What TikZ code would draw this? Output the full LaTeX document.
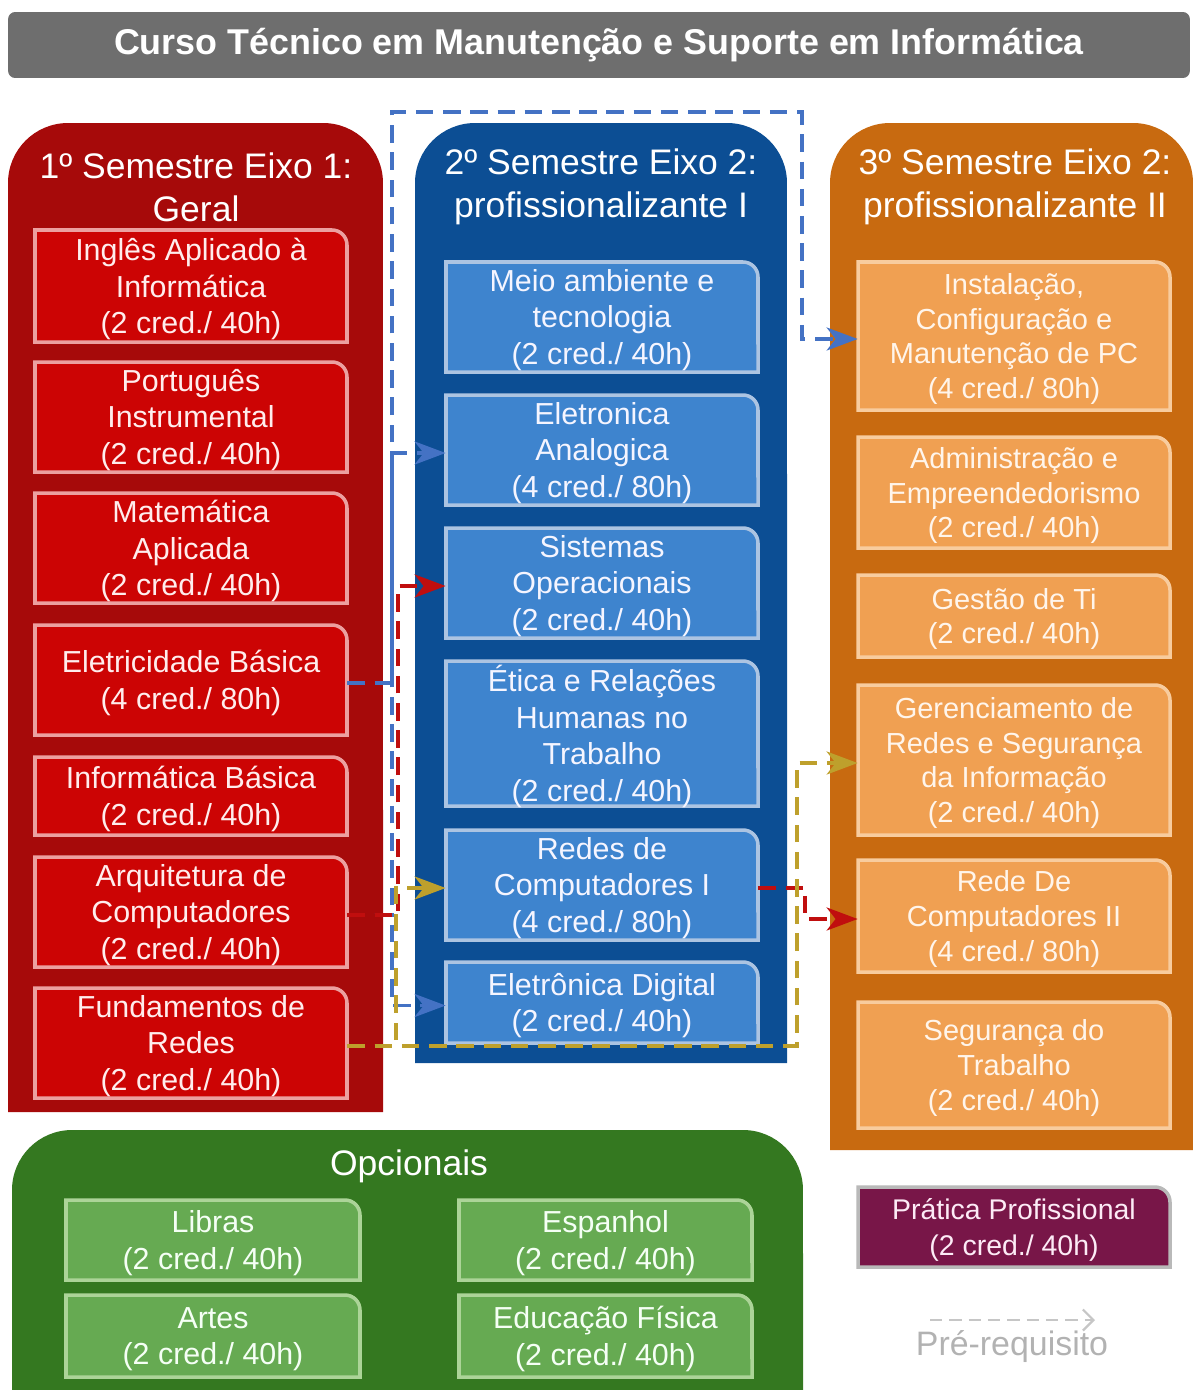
\documentclass[tikz,border=0pt]{standalone}
\usepackage{fontspec}
\setmainfont{Liberation Sans}
\usepackage{xcolor}
\usetikzlibrary{arrows.meta}

\definecolor{titlegray}{RGB}{110,110,110}
\definecolor{colred}{RGB}{166,10,10}
\definecolor{boxred}{RGB}{204,4,4}
\definecolor{rimred}{RGB}{236,160,160}
\definecolor{colblue}{RGB}{12,78,148}
\definecolor{boxblue}{RGB}{62,132,206}
\definecolor{rimblue}{RGB}{172,196,226}
\definecolor{colorange}{RGB}{200,106,16}
\definecolor{boxorange}{RGB}{240,160,82}
\definecolor{rimorange}{RGB}{248,204,158}
\definecolor{colgreen}{RGB}{52,120,32}
\definecolor{boxgreen}{RGB}{102,170,82}
\definecolor{rimgreen}{RGB}{172,212,152}
\definecolor{boxplum}{RGB}{120,22,72}
\definecolor{preblue}{RGB}{68,114,196}
\definecolor{prered}{RGB}{192,14,14}
\definecolor{preolive}{RGB}{190,160,44}

% subject box: name, shape style, text style, x1, y1, x2, y2, text
\newcommand{\subj}[8]{%
  \draw[#2] (#4,#7) -- (#4,#5) -- ({#6-15},#5) arc[start angle=90,end angle=0,radius=0.3cm] -- (#6,#7) -- cycle;
  \node[#3, minimum width={(#6-#4)*0.02cm}, minimum height={(#7-#5)*0.02cm}] (#1) at ({(#4+#6)/2},{(#5+#7)/2+3}) {#8};
}
% semester panel with round top corners: style, x1, y1, x2, y2
\newcommand{\panel}[5]{%
  \fill[#1] (#2,#5) -- (#2,{#3+60}) arc[start angle=180,end angle=90,radius=1.2cm] -- ({#4-60},#3) arc[start angle=90,end angle=0,radius=1.2cm] -- (#4,#5) -- cycle;
}

\tikzset{
  subj/.style={inner sep=0pt, align=center, font=\fontsize{17.3}{20.7}\selectfont},
  head/.style={inner sep=0pt, align=center, text=white, font=\fontsize{20.2}{24.4}\selectfont},
  shapeA/.style={fill=boxred, draw=rimred, line width=2pt},
  shapeB/.style={fill=boxblue, draw=rimblue, line width=2pt},
  shapeC/.style={fill=boxorange, draw=rimorange, line width=2pt},
  shapeD/.style={fill=boxgreen, draw=rimgreen, line width=2pt},
  shapeE/.style={fill=boxplum, draw=gray!55, line width=2pt},
  txtA/.style={subj, text=red!7!white},
  txtB/.style={subj, text=blue!4!white},
  txtC/.style={subj, text=orange!8!white, font=\fontsize{16.5}{19.9}\selectfont},
  txtD/.style={subj, text=green!4!white},
  txtE/.style={subj, text=magenta!8!white, font=\fontsize{16.2}{21}\selectfont},
  pre/.style={line width=2.2pt, dash pattern=on 10pt off 5.5pt, -{Stealth[length=0.62cm, width=0.46cm, inset=0.18cm]}},
}

\begin{document}
\begin{tikzpicture}[x=0.02cm, y=-0.02cm]
\useasboundingbox (0,0) rectangle (1193,1390);

% title
\node[fill=titlegray, rounded corners=4pt, minimum width=23.64cm, minimum height=1.32cm, inner sep=0pt,
      text=white, font=\bfseries\fontsize{20.4}{24}\selectfont] (title) at (599,45)
      {Curso Técnico em Manutenção e Suporte em Informática};

% panels
\panel{colred}{8}{123}{383}{1112}
\panel{colblue}{415}{123}{787}{1063}
\panel{colorange}{830}{123}{1193}{1150}
\panel{colgreen}{12}{1130}{803}{1390}

\node[head] (h1) at (196,187) {1º Semestre Eixo 1:\\Geral};
\node[head] (h2) at (601,187) {2º Semestre Eixo 2:\\profissionalizante I};
\node[head] (h3) at (1015,187) {3º Semestre Eixo 2:\\profissionalizante II};
\node[head] (h4) at (409,1166) {Opcionais};

% 1o semestre
\subj{ingles}{shapeA}{txtA}{35}{230}{347}{342}{Inglês Aplicado à\\Informática\\(2 cred./ 40h)}
\subj{port}{shapeA}{txtA}{35}{362}{347}{472}{Português\\Instrumental\\(2 cred./ 40h)}
\subj{mat}{shapeA}{txtA}{35}{493}{347}{603}{Matemática\\Aplicada\\(2 cred./ 40h)}
\subj{eletr}{shapeA}{txtA}{35}{625}{347}{735}{Eletricidade Básica\\(4 cred./ 80h)}
\subj{infob}{shapeA}{txtA}{35}{757}{347}{835}{Informática Básica\\(2 cred./ 40h)}
\subj{arq}{shapeA}{txtA}{35}{857}{347}{967}{Arquitetura de\\Computadores\\(2 cred./ 40h)}
\subj{fund}{shapeA}{txtA}{35}{988}{347}{1098}{Fundamentos de\\Redes\\(2 cred./ 40h)}

% 2o semestre
\subj{meio}{shapeB}{txtB}{446}{262}{758}{372}{Meio ambiente e\\tecnologia\\(2 cred./ 40h)}
\subj{analog}{shapeB}{txtB}{446}{395}{758}{505}{Eletronica\\Analogica\\(4 cred./ 80h)}
\subj{so}{shapeB}{txtB}{446}{528}{758}{638}{Sistemas\\Operacionais\\(2 cred./ 40h)}
\subj{etica}{shapeB}{txtB}{446}{661}{758}{806}{Ética e Relações\\Humanas no\\Trabalho\\(2 cred./ 40h)}
\subj{redes1}{shapeB}{txtB}{446}{830}{758}{940}{Redes de\\Computadores I\\(4 cred./ 80h)}
\subj{digital}{shapeB}{txtB}{446}{962}{758}{1043}{Eletrônica Digital\\(2 cred./ 40h)}

% 3o semestre
\subj{instal}{shapeC}{txtC}{858}{262}{1170}{410}{Instalação,\\Configuração e\\Manutenção de PC\\(4 cred./ 80h)}
\subj{adm}{shapeC}{txtC}{858}{437}{1170}{548}{Administração e\\Empreendedorismo\\(2 cred./ 40h)}
\subj{gestao}{shapeC}{txtC}{858}{575}{1170}{657}{Gestão de Ti\\(2 cred./ 40h)}
\subj{gerenc}{shapeC}{txtC}{858}{685}{1170}{835}{Gerenciamento de\\Redes e Segurança\\da Informação\\(2 cred./ 40h)}
\subj{rede2}{shapeC}{txtC}{858}{860}{1170}{972}{Rede De\\Computadores II\\(4 cred./ 80h)}
\subj{seg}{shapeC}{txtC}{858}{1002}{1170}{1128}{Segurança do\\Trabalho\\(2 cred./ 40h)}

% opcionais
\subj{libras}{shapeD}{txtD}{66}{1200}{360}{1280}{Libras\\(2 cred./ 40h)}
\subj{esp}{shapeD}{txtD}{459}{1200}{752}{1280}{Espanhol\\(2 cred./ 40h)}
\subj{artes}{shapeD}{txtD}{66}{1295}{360}{1377}{Artes\\(2 cred./ 40h)}
\subj{edfis}{shapeD}{txtD}{459}{1295}{752}{1377}{Educação Física\\(2 cred./ 40h)}

\subj{pratica}{shapeE}{txtE}{858}{1187}{1170}{1267}{Prática Profissional\\(2 cred./ 40h)}

% pre-requisitos
\coordinate (busL) at (392,112);
\coordinate (busR) at (802,112);
\coordinate (redL) at (398,0);
\coordinate (oliveL) at (396,0);
\coordinate (oliveR) at (797,0);
\coordinate (redR) at (805,0);

\draw[pre, preblue] (eletr.east) -- (eletr.east -| busL) -- (analog.west -| busL) -- (analog.west);
\draw[pre, preblue] (arq.east) -- (arq.east -| busL) -- (digital.west -| busL) -- (digital.west);
\draw[pre, preblue] (arq.east) -- (arq.east -| busL) -- (busL) -- (busR) -- (instal.west -| busR) -- (instal.west);
\draw[pre, prered] (arq.east) -- (arq.east -| redL) -- (so.west -| redL) -- (so.west);
\draw[pre, prered] (redes1.east) -- (redes1.east -| redR) -- (rede2.west -| redR) -- (rede2.west);
\draw[pre, preolive] (fund.east) -- (fund.east -| oliveL) -- (redes1.west -| oliveL) -- (redes1.west);
\draw[pre, preolive] (fund.east) -- (fund.east -| oliveR) -- (gerenc.west -| oliveR) -- (gerenc.west);

% legenda
\coordinate (legA) at (930,1320);
\coordinate (legB) at (1095,1320);
\draw[gray!45, line width=1.3pt, dash pattern=on 7pt off 4pt, -{Straight Barb[length=6pt, width=12pt]}] (legA) -- (legB);
\node[inner sep=0pt, text=gray!60, font=\fontsize{19.3}{23}\selectfont] (leg) at (1012,1347) {Pré-requisito};
\end{tikzpicture}
\end{document}
